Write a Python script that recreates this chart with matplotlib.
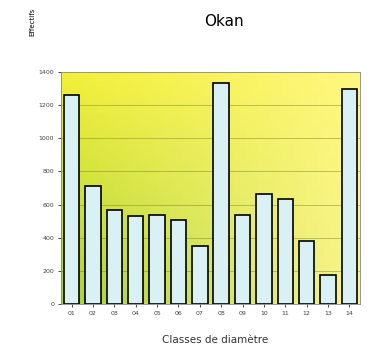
import matplotlib
matplotlib.use('Agg')
import matplotlib.pyplot as plt
import numpy as np

# data
classes = ['01', '02', '03', '04', '05', '06', '07', '08', '09', '10', '11', '12', '13', '14']
effectifs = [1260, 710, 565, 530, 540, 505, 350, 1335, 535, 665, 635, 380, 175, 1300]
yticks = [0, 200, 400, 600, 800, 1000, 1200, 1400]

W, H = 369, 358
fig = plt.figure(figsize=(W / 100, H / 100), dpi=100)
ax = fig.add_axes([61 / W, 1 - 304 / H, (360 - 61) / W, (304 - 72) / H])

# yellow / green gradient background
ny, nx = 50, 50
yy, xx = np.mgrid[0:1:ny * 1j, 0:1:nx * 1j]
bl = np.array([0.66, 0.82, 0.22])
br = np.array([0.98, 0.96, 0.55])
tl = np.array([0.95, 0.94, 0.22])
tr = np.array([1.0, 0.97, 0.50])
img = ((1 - xx)[..., None] * (1 - yy)[..., None] * bl + xx[..., None] * (1 - yy)[..., None] * br
       + (1 - xx)[..., None] * yy[..., None] * tl + xx[..., None] * yy[..., None] * tr)
ax.imshow(np.clip(img, 0, 1), extent=[-0.5, len(classes) - 0.5, 0, 1400], origin='lower',
          aspect='auto', zorder=0)

for t in yticks[1:-1]:
    ax.axhline(t, color='#6e7a20', lw=0.6, alpha=0.5, zorder=1)

x = np.arange(len(classes))
ax.bar(x, effectifs, width=0.72, color='#d9f1f5', edgecolor='black', linewidth=1.2, zorder=2)

ax.set_xlim(-0.5, len(classes) - 0.5)
ax.set_ylim(0, 1400)
ax.set_yticks(yticks)
ax.set_yticklabels([str(t) for t in yticks], fontsize=4.5, color='#444444')
ax.set_xticks(x)
ax.set_xticklabels(classes, fontsize=4.5, color='#444444')
ax.tick_params(length=2, width=0.5, pad=3)
for s in ax.spines.values():
    s.set_color('#888888')
    s.set_linewidth(0.6)

fig.text(224 / W, 1 - 22 / H, 'Okan', ha='center', va='center', fontsize=11)
fig.text(32 / W, 1 - 22 / H, 'Effectifs', ha='center', va='center', fontsize=5, rotation=90)
fig.text(215 / W, 1 - 340 / H, 'Classes de diamètre', ha='center', va='center', fontsize=7.5,
         color='#333333')

fig.savefig('out.png', dpi=100)
